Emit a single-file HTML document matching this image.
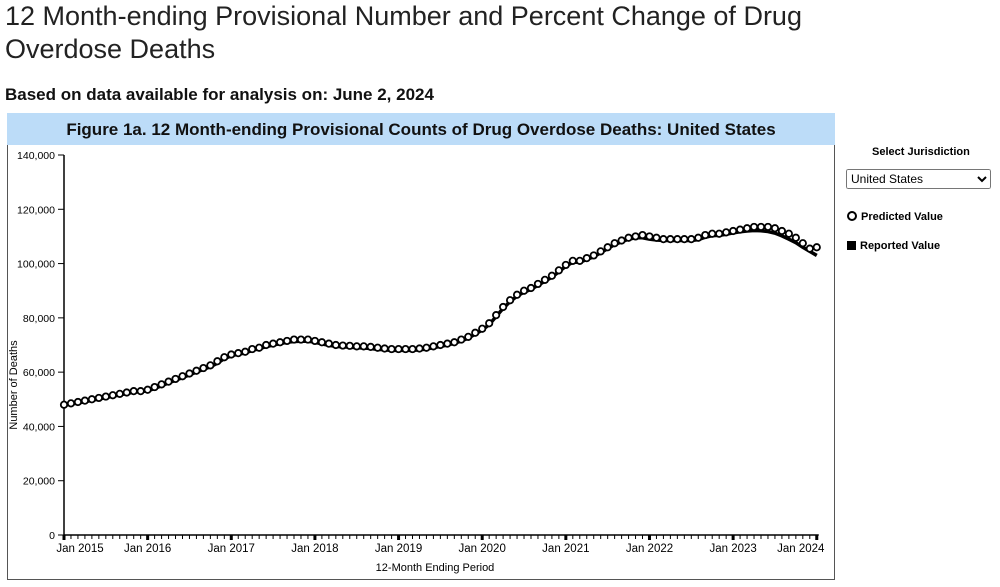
<!DOCTYPE html>
<html><head><meta charset="utf-8">
<style>
body{margin:0;width:1000px;height:587px;background:#fff;font-family:"Liberation Sans",sans-serif;overflow:hidden;position:relative}
h1{position:absolute;left:5px;top:0;margin:0;font-weight:normal;font-size:27px;line-height:33px;color:#222;width:900px}
h2{position:absolute;left:5px;top:85px;margin:0;font-size:17px;color:#111}
#bar{position:absolute;left:7px;top:113px;width:828px;height:32px;background:#bcdcf8;font-weight:bold;font-size:17px;text-align:center;line-height:34px;color:#111}
#panel{position:absolute;left:7px;top:145px;width:826px;height:434px;border:1px solid #555;border-top:none}
select{position:absolute;left:846px;top:169px;width:145px;height:20px;font-size:12px;font-family:"Liberation Sans",sans-serif}
</style></head><body>
<h1>12 Month-ending Provisional Number and Percent Change of Drug Overdose Deaths</h1>
<h2>Based on data available for analysis on: June 2, 2024</h2>
<div id="bar">Figure 1a. 12 Month-ending Provisional Counts of Drug Overdose Deaths: United States</div>
<div id="panel"></div>
<div style="position:absolute;left:872px;top:146px;font-size:11px;font-weight:bold">Select Jurisdiction</div>
<select><option>United States</option></select>
<div style="position:absolute;left:847px;top:211px;font-size:11px;font-weight:bold"><span style="display:inline-block;width:6px;height:6px;border:2px solid #000;border-radius:50%;vertical-align:-1px;margin-right:4px"></span>Predicted Value</div>
<div style="position:absolute;left:847px;top:240px;font-size:11px;font-weight:bold"><span style="display:inline-block;width:9px;height:9px;background:#000;vertical-align:-1px;margin-right:4px"></span>Reported Value</div>
<svg id="chart" width="1000" height="587" style="position:absolute;left:0;top:0"></svg>
<script>
const yTicks=[0,20000,40000,60000,80000,100000,120000,140000];
const yearLabels=["Jan 2015","Jan 2016","Jan 2017","Jan 2018","Jan 2019","Jan 2020","Jan 2021","Jan 2022","Jan 2023","Jan 2024"];
const predicted=[48,48.5,49,49.5,50,50.5,51,51.5,52,52.5,53,53,
53.5,54.5,55.5,56.5,57.5,58.5,59.5,60.5,61.5,62.5,64,65.5,
66.5,67,67.5,68.5,69,70,70.5,71,71.5,72,72,72,
71.5,71,70.5,70,69.8,69.7,69.5,69.5,69.3,69,68.7,68.5,
68.5,68.5,68.5,68.7,69,69.5,70,70.5,71,72,73,74.5,
76,78,81,84,86.5,88.5,90,91,92.5,94,95.5,97.5,
99.5,101,101,102,103,104.5,106,107.5,108.5,109.5,110,110.5,
110,109.5,109,109,109,109,109,109.5,110.5,111,111,111.5,
112,112.5,113,113.5,113.5,113.5,113,112,111,109.5,107.5,105.5,
106];
const reported=[47.8,48.2,48.6,49.1,49.6,50.1,50.6,51.1,51.6,52.1,52.6,52.8,
53.1,54,55,56,57,58,59,60,61,62,63.3,65,
66,66.6,67.1,68,68.6,69.4,70,70.5,71,71.3,71.4,71.4,
71,70.4,69.9,69.5,69.3,69.2,69,68.9,68.7,68.4,68.2,68,
68,68,68,68.2,68.5,69,69.5,70,70.6,71.5,72.5,74,
75.5,77.5,80.5,83.5,86,88,89.5,90.5,92,93.5,95,97,
99,100.5,100.5,101.5,102.5,104,105.5,107,108,109,109.5,109.5,
109,108.7,108.5,108.5,108.5,108.5,108.5,108.8,109.7,110.3,110.4,110.8,
111.3,111.7,112,112.2,112.1,111.8,111.2,110.2,109,107.7,106,104.5,
103];
const svg=document.getElementById('chart');const NS='http://www.w3.org/2000/svg';
const x0=64,pxMonth=6.97,yBase=535,yTop=155,yMax=140000;
const X=i=>x0+i*pxMonth;const Y=v=>yBase-(v/yMax)*(yBase-yTop);
function mk(t,a){const e=document.createElementNS(NS,t);for(const k in a)e.setAttribute(k,a[k]);svg.appendChild(e);return e;}
let e=mk('line',{x1:64,y1:yTop,x2:64,y2:yBase,stroke:'#000','stroke-width':1.5});

e=mk('line',{x1:64,y1:yBase,x2:X(predicted.length-1)+2,y2:yBase,stroke:'#000','stroke-width':1.5});

yTicks.forEach(v=>{mk('line',{x1:58,x2:64,y1:Y(v),y2:Y(v),stroke:'#000'});
const t=mk('text',{x:55,y:Y(v)+4,'text-anchor':'end','font-size':10.5,fill:'#000'});t.textContent=v.toLocaleString('en-US');
});
for(let i=0;i<predicted.length;i++){const yr=i%12===0;mk('line',{x1:X(i),x2:X(i),y1:yBase,y2:yBase+(yr?5:4),stroke:'#000','stroke-width':yr?3:1});}
yearLabels.forEach((l,k)=>{let cx=X(k*12);if(k===0)cx+=16;if(k===yearLabels.length-1)cx-=16;
const t=mk('text',{x:cx,y:yBase+17,'text-anchor':'middle','font-size':11.5});t.textContent=l;
});
let t=mk('text',{x:435,y:571,'text-anchor':'middle','font-size':11});t.textContent='12-Month Ending Period';

t=mk('text',{x:17,y:385,'text-anchor':'middle','font-size':11,transform:'rotate(-90 17 385)'});t.textContent='Number of Deaths';

const p=mk('path',{d:reported.map((v,i)=>(i?'L':'M')+X(i)+','+Y(v*1000)).join(''),fill:'none',stroke:'#000','stroke-width':3.5});

predicted.forEach((v,i)=>{const c=mk('circle',{cx:X(i),cy:Y(v*1000),r:3.2,fill:'#fff',stroke:'#000','stroke-width':1.8});
});
</script>
</body></html>
